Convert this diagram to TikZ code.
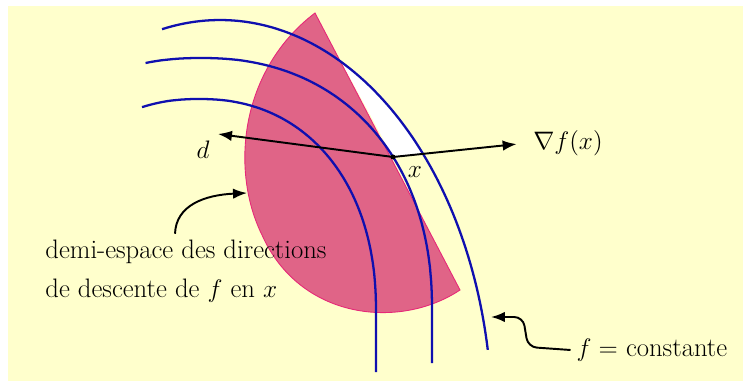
\documentclass[tikz,border=0pt]{standalone}
\usetikzlibrary{arrows.meta,positioning,calc}
\definecolor{fondjaune}{RGB}{255,255,204}
\definecolor{rose}{RGB}{224,100,135}
\definecolor{bordrose}{RGB}{230,40,120}
\definecolor{bleu}{RGB}{15,15,175}

\begin{document}
\begin{tikzpicture}[>=Latex,x=0.02cm,y=-0.02cm,font=\fontsize{15.2}{22}\selectfont]
  \tikzstyle{niveau}=[bleu,line width=1.3pt]
  \tikzstyle{fleche}=[line width=1.1pt,->]
  \useasboundingbox (0,0) rectangle (743,381);
  \fill[white] (0,0) rectangle (743,381);
  \fill[fondjaune] (8,6) rectangle (743,381);
  % demi-disque des directions de descente
  \filldraw[fill=rose,draw=bordrose,line width=0.5pt] (460,290) .. controls (400,330) and (300,320) .. (262,235)
    .. controls (230,170) and (240,70) .. (315,13) -- cycle;
  % zone blanche entre la corde et la courbe exterieure
  \begin{scope}
    \clip (315,13) -- (393,157) -- (512,145) -- (512,0) -- cycle;
    \fill[white] plot[domain=102.3:10.1,samples=80] ({220+272*cos(\x)},{420-400*sin(\x)}) -- (488,381) -- (140,381) -- cycle;
  \end{scope}
  % courbes de niveau
  \draw[niveau] plot[domain=102.3:10.1,samples=80] ({220+272*cos(\x)},{420-400*sin(\x)});
  \draw[niveau] plot[domain=102:0.2,samples=80] ({201+231*sign(cos(\x))*abs(cos(\x))^0.909},{310-252*sin(\x)^0.909}) -- (432,363);
  \draw[niveau] plot[domain=106.7:0.2,samples=80] ({199+177*sign(cos(\x))*abs(cos(\x))^0.909},{312-213*sin(\x)^0.909}) -- (376,372);
  % point x et directions
  \coordinate (x) at (393,157);
  \coordinate (dtip) at (218,134);
  \coordinate (pointe) at (247,193);
  \coordinate (surcourbe) at (491,317);
  \fill (x) circle (2.5);
  \node (lx) at (415,172) {$x$};
  \node (d) at (203,150) {$d$};
  \node (grad) at (568,143) {$\nabla f(x)$};
  \node[align=left] (demi) at (186,271) {demi-espace des directions\\de descente de $f$ en $x$};
  \node (fc) at (652,350) {$f=$ constante};
  \draw[fleche] (x) -- (dtip);
  \draw[fleche,shorten >=6pt] (x) -- (grad.west);
  \draw[fleche] ([xshift=-0.22cm]demi.north) .. controls (176,205) and (205,195) .. (pointe);
  \draw[fleche,rounded corners=5] (fc.west) -- (528,347) -- (523,317) -- (surcourbe);
\end{tikzpicture}
\end{document}
